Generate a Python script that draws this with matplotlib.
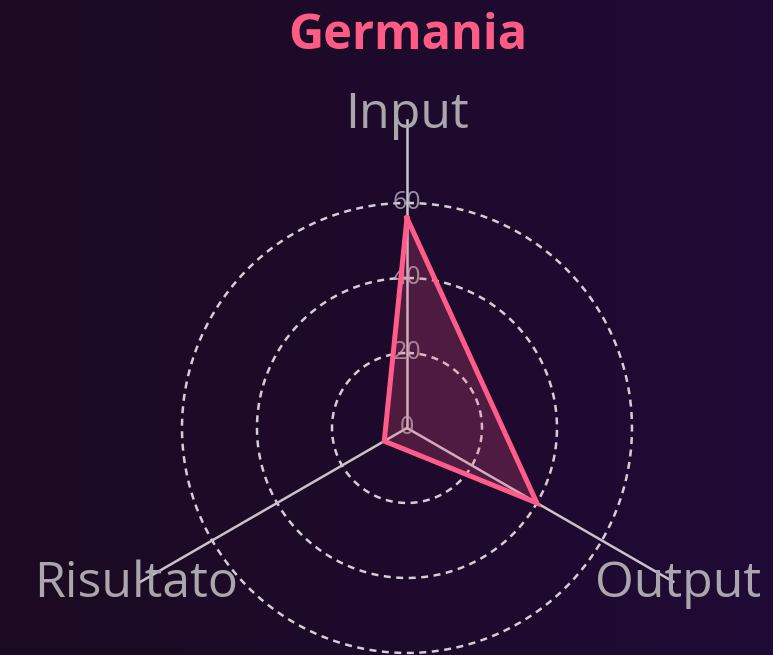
import numpy as np
import matplotlib
matplotlib.use('Agg')
import matplotlib.pyplot as plt
from matplotlib.colors import LinearSegmentedColormap

categories = ['Input', 'Output', 'Risultato']
values = [56, 40, 7]
rings = [20, 40, 60]
ring_labels = ['0', '20', '40', '60']
title = 'Germania'

plt.rcParams['font.family'] = ['Open Sans', 'DejaVu Sans']

fig = plt.figure(figsize=(7.73, 6.55), dpi=100)

# background gradient
bg = fig.add_axes([0, 0, 1, 1])
grad = np.linspace(0, 1, 256).reshape(1, -1)
cmap = LinearSegmentedColormap.from_list('bg', ['#1b0b21', '#200a36'])
bg.imshow(grad, aspect='auto', cmap=cmap, extent=[0, 1, 0, 1])
bg.axis('off')

rmax = 82
ax = fig.add_axes([0.1287, -0.1229, 0.7956, 0.939], projection='polar')
ax.set_facecolor('none')
ax.set_theta_offset(np.pi / 2)
ax.set_theta_direction(-1)
ax.set_ylim(0, rmax)

angles = np.linspace(0, 2 * np.pi, len(categories), endpoint=False)

# axis lines
for a in angles:
    ax.plot([a, a], [0, rmax], color='#c9c2cb', lw=1.8, zorder=2, clip_on=False)

# dashed rings
theta = np.linspace(0, 2 * np.pi, 400)
for r in rings:
    ax.plot(theta, np.full_like(theta, r), color='#d4cdd6', lw=1.8,
            ls=(0, (2.8, 2.2)), zorder=1)

ax.grid(False)
ax.spines['polar'].set_visible(False)
ax.set_xticks([])
ax.set_yticks([])

# ring labels
for v, lab in zip([0] + rings, ring_labels):
    ax.text(0, v, lab, ha='center', va='center', fontsize=18,
            color='#b8b0bb', alpha=0.8, zorder=3)

# data polygon
a_closed = np.append(angles, angles[0])
v_closed = np.append(values, values[0])
ax.fill(a_closed, v_closed, color='#ff5c8a', alpha=0.22, zorder=4)
ax.plot(a_closed, v_closed, color='#ff5c8a', lw=3.6, zorder=5,
        solid_joinstyle='miter')

# category labels
for a, c in zip(angles, categories):
    ax.text(a, 83.5, c, ha='center', va='center', fontsize=36,
            color='#aba5ad')

fig.text(0.527, 0.945, title, ha='center', va='center', fontsize=35,
         fontweight='bold', color='#ff5c85')

fig.savefig('out.png', dpi=100, facecolor='#1c0b22')
